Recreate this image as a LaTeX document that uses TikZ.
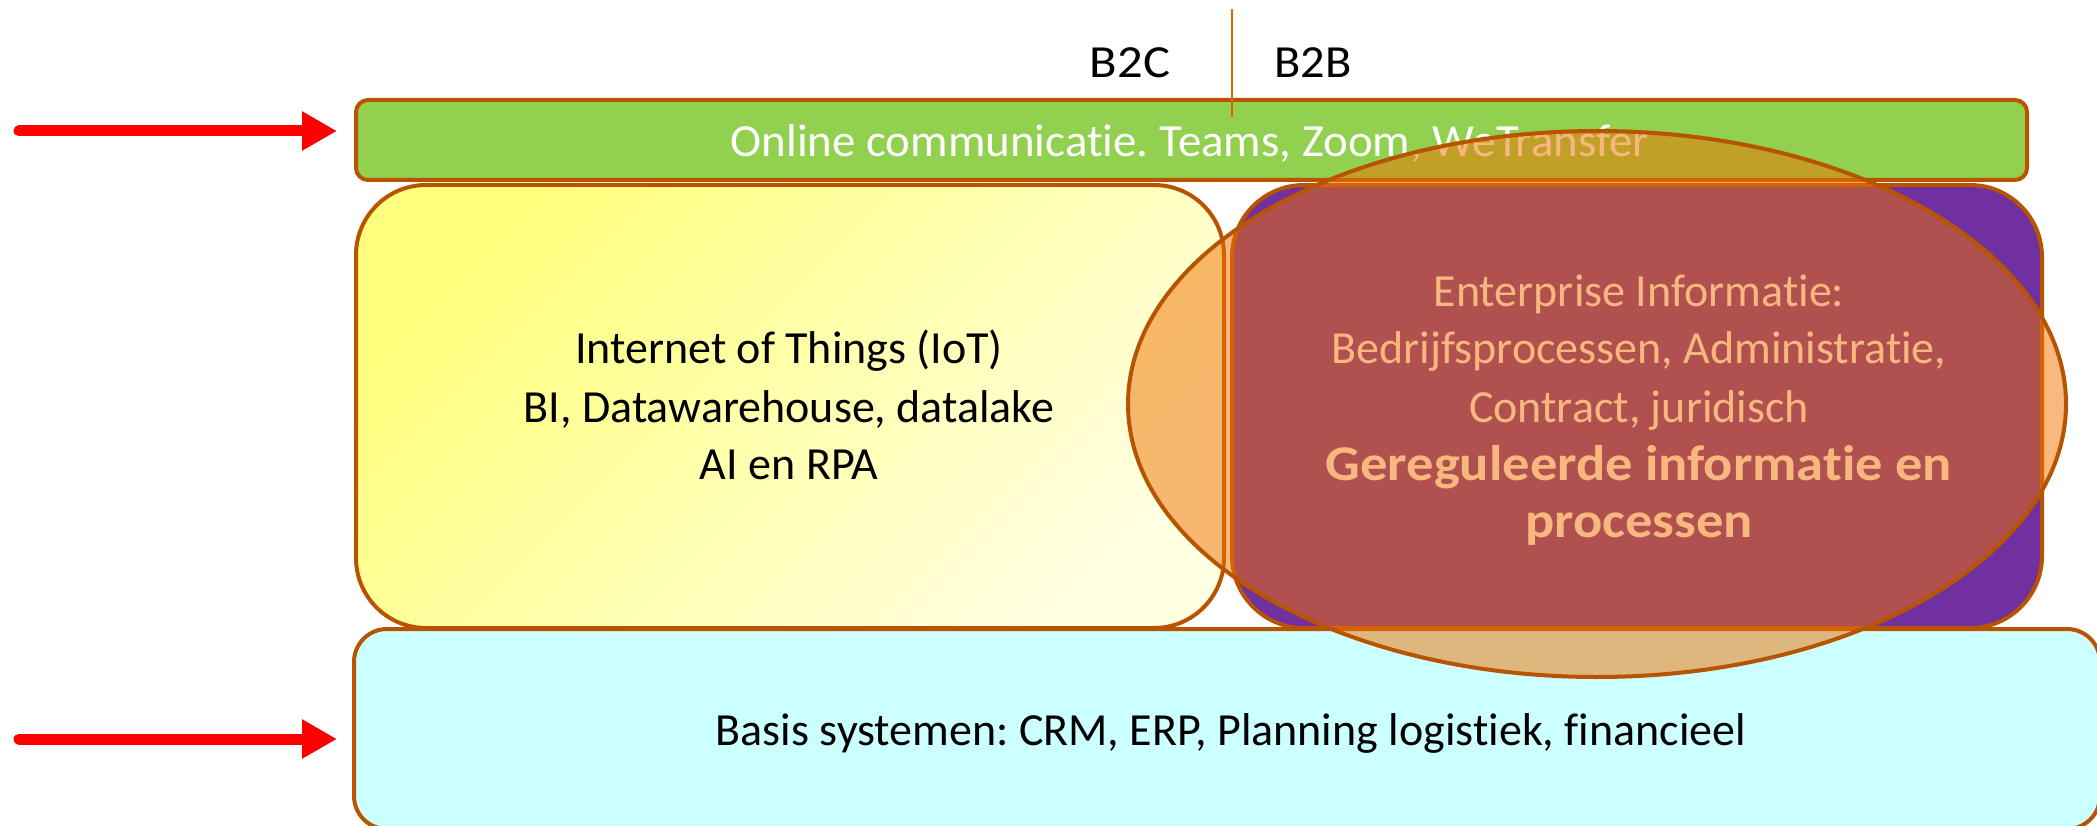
\documentclass[tikz,border=0pt]{standalone}
\usepackage{fontspec}
\setmainfont{Carlito}[Ligatures=NoCommon]
\usetikzlibrary{arrows.meta,shapes.geometric}
\frenchspacing
\definecolor{brn}{RGB}{184,84,0}
\definecolor{lineor}{RGB}{214,104,10}
\definecolor{grn}{RGB}{146,208,80}
\definecolor{prp}{RGB}{112,48,160}
\definecolor{cyn}{RGB}{204,255,255}
\definecolor{ylA}{RGB}{255,255,125}
\definecolor{ylB}{RGB}{255,255,225}
\definecolor{ellfill}{RGB}{241,113,0}
\definecolor{arrred}{RGB}{255,0,0}
\tikzset{
  box/.style={draw=brn, line width=4pt, inner sep=0pt, outer sep=0pt},
  txt/.style={font=\fontsize{46}{55}\selectfont, inner sep=0pt, outer sep=0pt, anchor=base},
  btxt/.style={txt, font=\fontsize{50}{55}\selectfont\bfseries},
  redarrow/.style={draw=arrred, line width=11pt, line cap=round, -{Triangle[length=35pt,width=37pt]}},
}
\begin{document}
\begin{tikzpicture}[x=1pt,y=-1pt]
\useasboundingbox (0,0) rectangle (2097,826);

% green bar
\node[box, fill=grn, rounded corners=12pt, minimum width=1671pt, minimum height=80pt] (green) at (1191.5,140) {};
\node[txt, text=white] (gtxt) at (1190,157) {\scalebox{1.02}[1]{Online communicatie. Teams, Zoom, WeTransfer}};

% B2C / B2B
\coordinate (vt) at (1232,9);
\coordinate (vb) at (1232,117);
\draw[lineor, line width=2pt] (vt) -- (vb);
\node[txt] (b2c) at (1130,78) {\scalebox{1.1}[1]{B2C}};
\node[txt] (b2b) at (1313,78) {\scalebox{1.05}[1]{B2B}};

% yellow box
\node[box, top color=ylA, bottom color=ylB, shading angle=45, rounded corners=70pt, minimum width=868pt, minimum height=443pt] (yel) at (790,406.5) {};
\node[txt] (y1) at (789,363) {Internet of Things (IoT)};
\node[txt] (y2) at (789,422) {BI, Datawarehouse, datalake};
\node[txt] (y3) at (789,479) {AI en RPA};

% purple box
\node[box, fill=prp, rounded corners=72pt, minimum width=810pt, minimum height=443pt] (purp) at (1637,406.5) {};
\node[txt, text=white] (p1) at (1639,307) {Enterprise Informatie:};
\node[txt, text=white] (p2) at (1639,363) {Bedrijfsprocessen, Administratie,};
\node[txt, text=white] (p3) at (1639,422) {Contract, juridisch};
\node[btxt, text=white] (p4) at (1639,480) {\scalebox{1.09}[1]{Gereguleerde informatie en}};
\node[btxt, text=white] (p5) at (1639,537) {\scalebox{1.09}[1]{processen}};

% cyan box
\node[box, fill=cyn, rounded corners=33pt, minimum width=1746pt, minimum height=200pt] (cyan) at (1227,729) {};
\node[txt] (ctxt) at (1231,745) {Basis systemen: CRM, ERP, Planning logistiek, financieel};

% ellipse
\node[ellipse, draw=brn, line width=4pt, fill=ellfill, fill opacity=0.5, draw opacity=1, inner sep=0pt, minimum width=938pt, minimum height=546pt] (ell) at (1597,404) {};

% arrows
\coordinate (a1s) at (19,131);
\coordinate (a1e) at (337,131);
\coordinate (a2s) at (19,739);
\coordinate (a2e) at (337,739);
\draw[redarrow] (a1s) -- (a1e);
\draw[redarrow] (a2s) -- (a2e);
\end{tikzpicture}
\end{document}
